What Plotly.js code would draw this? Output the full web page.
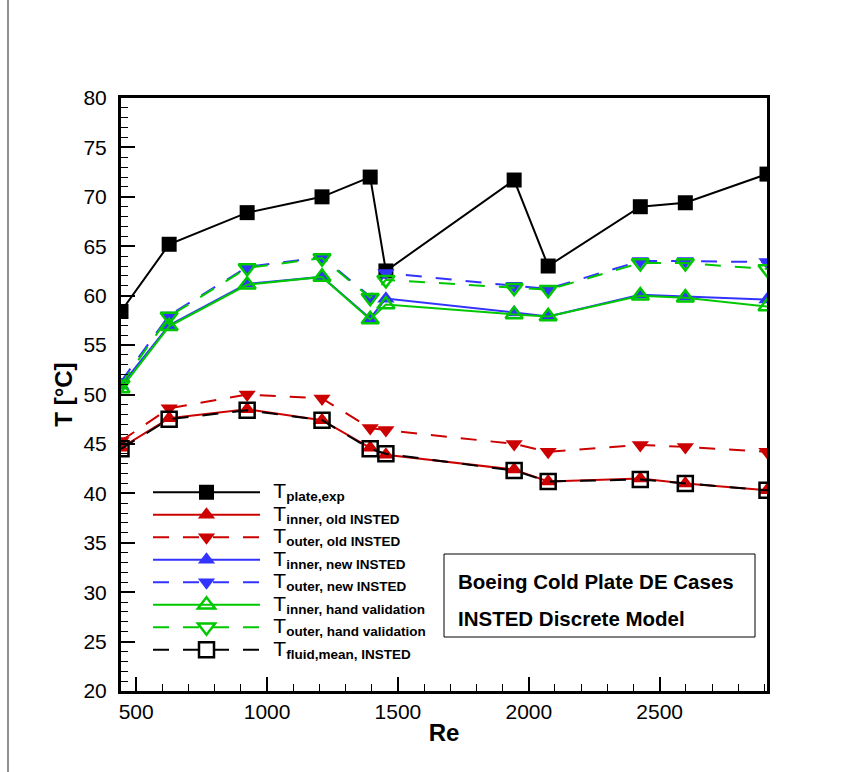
<!DOCTYPE html>
<html><head><meta charset="utf-8">
<script src="https://cdn.plot.ly/plotly-3.0.1.min.js"></script>
<style>html,body{margin:0;padding:0;background:#fff}</style>
</head><body><div id="chart" style="width:859px;height:772px"></div>
<script>
// Reynolds number (x values)
const re = [442, 626, 924, 1210, 1394, 1454, 1944, 2074, 2426, 2598, 2910];
// Temperatures [°C]
const tPlateExp       = [58.4, 65.2, 68.4, 70.0, 72.0, 62.5, 71.7, 63.0, 69.0, 69.4, 72.3];
const tInnerOld       = [44.6, 47.6, 48.5, 47.4, 44.6, 43.9, 42.4, 41.2, 41.5, 41.0, 40.3];
const tOuterOld       = [45.3, 48.6, 50.0, 49.6, 46.6, 46.4, 45.0, 44.2, 44.9, 44.7, 44.2];
const tInnerNew       = [50.9, 57.0, 61.2, 61.9, 57.7, 59.7, 58.3, 57.9, 60.1, 59.9, 59.6];
const tOuterNew       = [51.3, 58.0, 62.9, 63.9, 59.9, 62.3, 61.0, 60.7, 63.5, 63.5, 63.4];
const tInnerHand      = [50.6, 56.9, 61.1, 61.9, 57.6, 59.1, 58.1, 57.9, 60.0, 59.8, 58.9];
const tOuterHand      = [51.0, 57.9, 62.8, 63.8, 59.8, 61.6, 60.8, 60.6, 63.3, 63.3, 62.7];
const tFluidMean      = [44.5, 47.5, 48.4, 47.4, 44.5, 44.0, 42.3, 41.2, 41.4, 41.0, 40.3];

const subLabels = ['plate,exp', 'inner, old INSTED', 'outer, old INSTED', 'inner, new INSTED',
  'outer, new INSTED', 'inner, hand validation', 'outer, hand validation', 'fluid,mean, INSTED'];
const xTitle = 'Re';
const yTitle = 'T [°C]';
const noteLines = ['Boeing Cold Plate DE Cases', 'INSTED Discrete Model'];

const FONT = 'Liberation Sans, Arial, Helvetica, sans-serif';
const RED = '#cc0000', BLUE = '#3333ff', GREEN = '#00c800', BLACK = '#000000';
const DASH = '16px,14px';

function lbl(s) {
  return '\u00a0\u00a0<span style="font-size:21px">T</span><sub><span style="font-size:13.5px;font-weight:bold">' + s + '</span></sub>';
}

const styles = [
  {y: tPlateExp,  color: BLACK, dash: 'solid', symbol: 'square',            size: 15},
  {y: tInnerOld,  color: RED,   dash: 'solid', symbol: 'triangle-up',       size: 15},
  {y: tOuterOld,  color: RED,   dash: DASH,    symbol: 'triangle-down',     size: 15},
  {y: tInnerNew,  color: BLUE,  dash: 'solid', symbol: 'triangle-up',       size: 15},
  {y: tOuterNew,  color: BLUE,  dash: DASH,    symbol: 'triangle-down',     size: 15},
  {y: tInnerHand, color: GREEN, dash: 'solid', symbol: 'triangle-up-open',  size: 15},
  {y: tOuterHand, color: GREEN, dash: DASH,    symbol: 'triangle-down-open',size: 15},
  {y: tFluidMean, color: BLACK, dash: DASH,    symbol: 'square-open',       size: 15}
];

const traces = styles.map((s, i) => ({
  type: 'scatter', mode: 'lines+markers',
  x: re, y: s.y, name: lbl(subLabels[i]),
  line: {color: s.color, width: 2, dash: s.dash},
  marker: {symbol: s.symbol, size: s.size, color: s.color,
           line: {color: s.color, width: s.symbol.indexOf('open') >= 0 ? 2.5 : 0}},
  hoverinfo: 'x+y'
}));

const L = 121, R = 92, T = 98, B = 81, W = 859, H = 772;
const pw = W - L - R, ph = H - T - B;
const px = v => (v - L) / pw;
const py = v => 1 - (v - T) / ph;

const axisCommon = {
  showline: true, linewidth: 3, linecolor: BLACK, mirror: true,
  showgrid: false, zeroline: false,
  ticks: 'inside', ticklen: 14, tickwidth: 2, tickcolor: BLACK,
  tickfont: {family: FONT, size: 21, color: BLACK},
  minor: {ticks: 'inside', ticklen: 7, tickwidth: 1, tickcolor: BLACK, showgrid: false}
};

const layout = {
  width: W, height: H,
  margin: {l: L, r: R, t: T, b: B},
  paper_bgcolor: '#fff', plot_bgcolor: '#fff',
  font: {family: FONT, color: BLACK},
  xaxis: Object.assign({}, axisCommon, {
    range: [re[0], re[re.length - 1]], tick0: 500, dtick: 500,
    minor: Object.assign({}, axisCommon.minor, {dtick: 100}),
    title: {text: xTitle, font: {family: FONT, size: 24, weight: 'bold', color: BLACK}, standoff: 2}
  }),
  yaxis: Object.assign({}, axisCommon, {
    range: [20, 80], tick0: 20, dtick: 5, ticklabelstandoff: 7,
    minor: Object.assign({}, axisCommon.minor, {dtick: 1}),
    title: {text: yTitle, font: {family: FONT, size: 24, weight: 'bold', color: BLACK}, standoff: 5}
  }),
  showlegend: true,
  legend: {
    x: px(148), y: py(476), xanchor: 'left', yanchor: 'top',
    bgcolor: 'rgba(0,0,0,0)', borderwidth: 0,
    font: {family: FONT, size: 15, color: BLACK},
    itemwidth: 107, tracegroupgap: 0
  },
  shapes: [
    {type: 'rect', xref: 'paper', yref: 'paper', x0: px(444), x1: px(755), y0: py(554), y1: py(637),
     line: {color: BLACK, width: 1}, fillcolor: '#fff', layer: 'above'},
    {type: 'line', xref: 'paper', yref: 'paper', x0: px(8), x1: px(8), y0: py(0), y1: py(772),
     line: {color: '#222', width: 1}}
  ],
  annotations: [
    {xref: 'paper', yref: 'paper', x: px(456), y: py(581.7), xanchor: 'left', yanchor: 'middle',
     text: '<b>' + noteLines[0] + '</b>', showarrow: false, font: {family: FONT, size: 20.5, color: BLACK}},
    {xref: 'paper', yref: 'paper', x: px(456), y: py(618), xanchor: 'left', yanchor: 'middle',
     text: '<b>' + noteLines[1] + '</b>', showarrow: false, font: {family: FONT, size: 20.5, color: BLACK}}
  ]
};

Plotly.newPlot('chart', traces, layout, {displayModeBar: false, staticPlot: true});
</script>
</body></html>
